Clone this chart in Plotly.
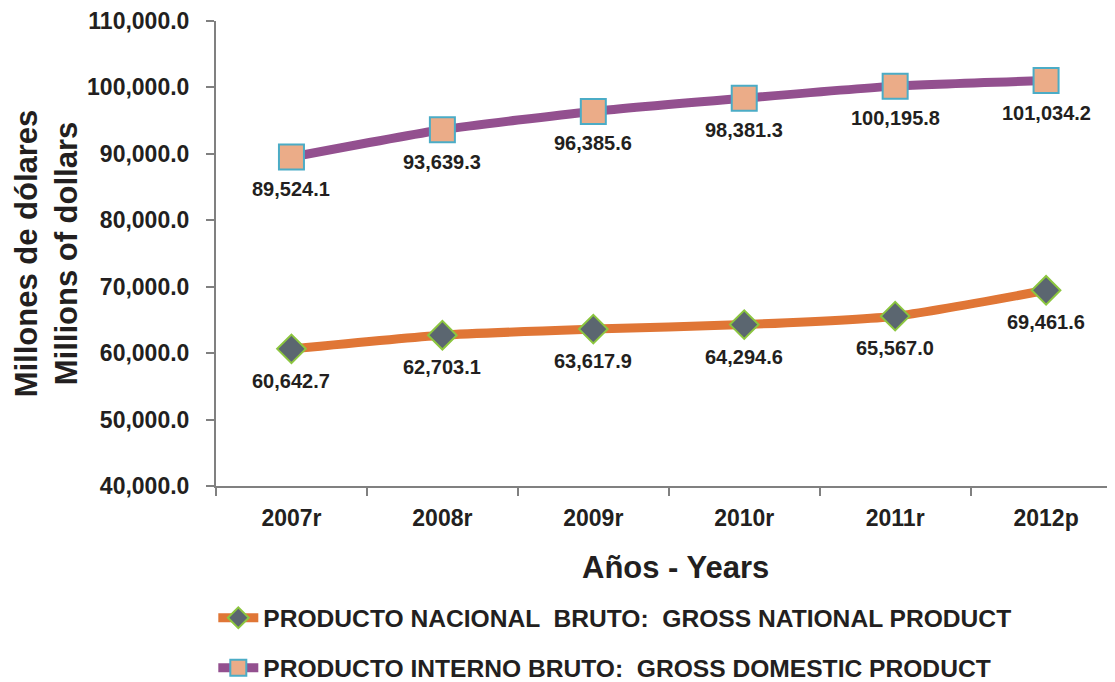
import plotly.graph_objects as go

years = ["2007r", "2008r", "2009r", "2010r", "2011r", "2012p"]
gnp = [60642.7, 62703.1, 63617.9, 64294.6, 65567.0, 69461.6]
gdp = [89524.1, 93639.3, 96385.6, 98381.3, 100195.8, 101034.2]
gnp_name = "PRODUCTO NACIONAL  BRUTO:  GROSS NATIONAL PRODUCT"
gdp_name = "PRODUCTO INTERNO BRUTO:  GROSS DOMESTIC PRODUCT"

FONT = "Liberation Sans, Arial, sans-serif"
TXT = "#231F20"

def fmt(v):
    return f"{v:,.1f}"

fig = go.Figure()
fig.add_trace(go.Scatter(
    x=years, y=gnp, name=gnp_name, mode="lines+markers",
    line=dict(color="#E07636", width=9, shape="spline", smoothing=0.6),
    marker=dict(symbol="diamond", size=22, color="#5B6670",
                line=dict(color="#8CC63F", width=2)),
    legendgroup="a",
))
fig.add_trace(go.Scatter(
    x=years, y=gdp, name=gdp_name, mode="lines+markers",
    line=dict(color="#93508F", width=9, shape="spline", smoothing=0.6),
    marker=dict(symbol="square", size=25, color="#EBAC88",
                line=dict(color="#4BACC6", width=2)),
    legendgroup="b",
))

annotations = []
for series in (gnp, gdp):
    for x, v in zip(years, series):
        annotations.append(dict(
            x=x, y=v, xref="x", yref="y", text=fmt(v), showarrow=False,
            yshift=-32, font=dict(family=FONT, size=20, color=TXT, weight="bold"),
        ))
# x-axis title (slightly right of the visible plot centre, as in the source)
annotations.append(dict(
    x=0.512, y=-0.175, xref="paper", yref="paper", xanchor="center", yanchor="middle",
    text="Años - Years", showarrow=False,
    font=dict(family=FONT, size=31, color=TXT, weight="bold"),
))

# page body has an 8px margin: figure is sized so it ends at the window edge
fig.update_layout(
    width=1107, height=674,
    margin=dict(l=208, r=1, t=13, b=196, autoexpand=False),
    plot_bgcolor="white", paper_bgcolor="white",
    font=dict(family=FONT, color=TXT),
    showlegend=True,
    annotations=annotations,
    legend=dict(x=-0.003, y=-0.235, xanchor="left", yanchor="top",
                font=dict(family=FONT, size=24.6, color=TXT, weight="bold"),
                tracegroupgap=15, itemwidth=40, bgcolor="rgba(0,0,0,0)"),
)
fig.update_xaxes(
    type="category", range=[-0.5, 5.45], automargin=False,
    showline=True, linecolor="#808080", linewidth=2,
    ticks="outside", tickson="boundaries", ticklen=8, tickcolor="#808080", tickwidth=2,
    ticklabelstandoff=10,
    tickfont=dict(family=FONT, size=23, color=TXT, weight="bold"),
    showgrid=False, zeroline=False,
)
fig.update_yaxes(
    range=[40000, 110000], dtick=10000, tickformat=",.1f", automargin=False,
    showline=True, linecolor="#808080", linewidth=2,
    ticks="outside", ticklen=8, tickcolor="#808080", tickwidth=2,
    ticklabelstandoff=12,
    tickfont=dict(family=FONT, size=23, color=TXT, weight="bold"),
    showgrid=False, zeroline=False,
    title=dict(text="Millones de dólares<br>Millions of dollars", standoff=0,
               font=dict(family=FONT, size=31, color=TXT, weight="bold")),
)

fig.write_html("out.html")
